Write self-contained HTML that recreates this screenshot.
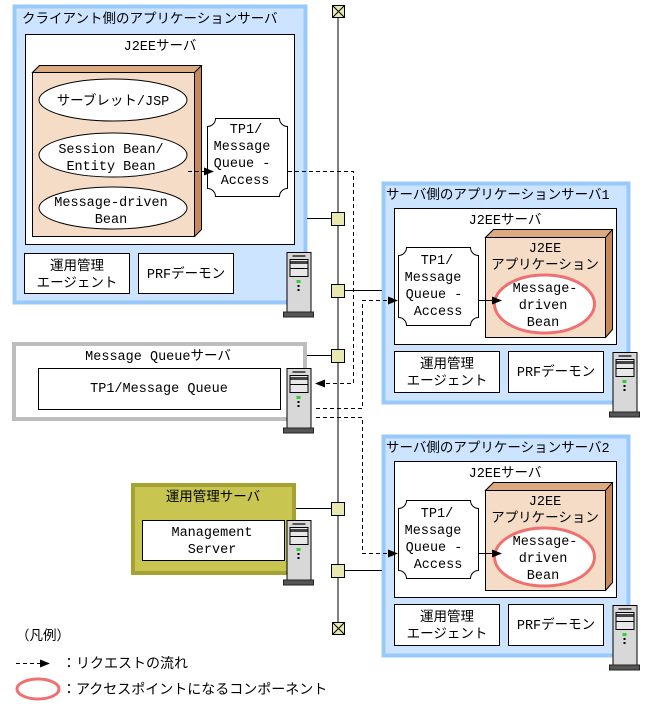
<!DOCTYPE html>
<html><head><meta charset="utf-8"><style>
body{margin:0;background:#fff}
svg{display:block}
text{font-family:"Liberation Mono","Noto Sans CJK JP",monospace;font-size:13.5px;fill:#000}
</style></head><body>
<svg width="646" height="705" viewBox="0 0 646 705" xmlns="http://www.w3.org/2000/svg">
<defs>
<g id="srv">
<rect x="0.5" y="0.5" width="24" height="60" fill="#d8d8d8" stroke="#000"/>
<rect x="6" y="3" width="13" height="2" fill="#555"/>
<rect x="3.5" y="7.5" width="18" height="17" fill="#e8e8e8" stroke="#000"/>
<rect x="4" y="9" width="17" height="3" fill="#444"/>
<line x1="4" y1="16.5" x2="21" y2="16.5" stroke="#000"/>
<rect x="10" y="28" width="4" height="3" fill="#3c3"/>
<rect x="11" y="33" width="2" height="2" fill="#000"/>
<rect x="11" y="37" width="2" height="2" fill="#000"/>
<rect x="-3" y="60" width="30" height="5" fill="#555" stroke="#222"/>
</g>
<path id="tp1" d="M8,0 H72 A8,8 0 0 0 80,8 V70 A8,8 0 0 0 72,78 H8 A8,8 0 0 0 0,70 V8 A8,8 0 0 0 8,0 Z" fill="#fff" stroke="#000"/>
<g id="arr"><path d="M0,-4 L10,0 L0,4 Z" fill="#000"/></g>
</defs>

<line x1="338" y1="12" x2="338" y2="628" stroke="#000"/>
<rect x="332.5" y="5.5" width="12" height="12" fill="#e8e8b0" stroke="#000"/>
<path d="M333,6 L344,17 M344,6 L333,17" stroke="#000"/>
<rect x="332.5" y="622.5" width="12" height="12" fill="#e8e8b0" stroke="#000"/>
<path d="M333,623 L344,634 M344,623 L333,634" stroke="#000"/>

<rect x="14.5" y="6.5" width="291" height="296" fill="#cce4ff" stroke="#99c8fa" stroke-width="4"/>
<text x="22" y="23">クライアント側のアプリケーションサーバ</text>
<rect x="25.5" y="34.5" width="269" height="210" fill="#fff" stroke="#000"/>
<text x="160" y="50" text-anchor="middle">J2EEサーバ</text>
<path d="M32.5,72.5 L39.5,65.5 L201.5,65.5 L201.5,229.5 L194.5,236.5 Z" fill="#c8895a" stroke="#000"/>
<path d="M32.5,72.5 L39.5,65.5 L201.5,65.5 L194.5,72.5 Z" fill="#dcaa80" stroke="#000"/>
<rect x="32.5" y="72.5" width="162" height="164" fill="#f4dcc6" stroke="#000"/>
<ellipse cx="113" cy="100" rx="74" ry="21" fill="#fff" stroke="#000"/>
<text x="113" y="105" text-anchor="middle">サーブレット/JSP</text>
<ellipse cx="113" cy="155" rx="74" ry="22" fill="#fff" stroke="#000"/>
<text x="111" y="153" text-anchor="middle">Session Bean/</text>
<text x="111" y="170" text-anchor="middle">Entity Bean</text>
<ellipse cx="113" cy="208" rx="74" ry="21" fill="#fff" stroke="#000"/>
<text x="111" y="206" text-anchor="middle">Message-driven</text>
<text x="111" y="223" text-anchor="middle">Bean</text>
<use href="#tp1" x="207.5" y="118.5"/>
<text x="246" y="133" text-anchor="middle">TP1/</text>
<text x="242" y="150" text-anchor="middle">Message</text>
<text x="242" y="167" text-anchor="middle">Queue -</text>
<text x="245" y="184" text-anchor="middle">Access</text>
<line x1="188" y1="171.5" x2="204" y2="171.5" stroke="#000" stroke-dasharray="4,3"/>
<use href="#arr" x="204" y="171.5"/>
<rect x="24.5" y="253.5" width="105" height="40" fill="#fff" stroke="#000"/>
<text x="77" y="270" text-anchor="middle">運用管理</text>
<text x="77" y="287" text-anchor="middle">エージェント</text>
<rect x="138.5" y="253.5" width="95" height="40" fill="#fff" stroke="#000"/>
<text x="186" y="278" text-anchor="middle">PRFデーモン</text>
<use href="#srv" x="286.5" y="252"/>

<rect x="14" y="344" width="291" height="75" fill="#fff" stroke="#bdbdbd" stroke-width="4"/>
<text x="158" y="360" text-anchor="middle">Message Queueサーバ</text>
<rect x="38.5" y="368.5" width="242" height="41" fill="#fff" stroke="#000"/>
<text x="159" y="392" text-anchor="middle">TP1/Message Queue</text>
<use href="#srv" x="286.5" y="368"/>

<rect x="133" y="485" width="161" height="88" fill="#c8c650" stroke="#a4a232" stroke-width="4"/>
<text x="213" y="501" text-anchor="middle">運用管理サーバ</text>
<rect x="142.5" y="520.5" width="142" height="40" fill="#fff" stroke="#000"/>
<text x="212" y="536" text-anchor="middle">Management</text>
<text x="212" y="553" text-anchor="middle">Server</text>
<use href="#srv" x="286.5" y="520"/>

<g id="s1">
<rect x="383.5" y="183.5" width="245" height="219" fill="#cce4ff" stroke="#99c8fa" stroke-width="4"/>
<text x="386" y="199">サーバ側のアプリケーションサーバ1</text>
<rect x="394.5" y="208.5" width="222" height="136" fill="#fff" stroke="#000"/>
<text x="505" y="224" text-anchor="middle">J2EEサーバ</text>
<path d="M485.5,237.5 L493.5,229.5 L612.5,229.5 L612.5,329.5 L605.5,337.5 Z" fill="#c8895a" stroke="#000"/>
<path d="M485.5,237.5 L493.5,229.5 L612.5,229.5 L605.5,237.5 Z" fill="#dcaa80" stroke="#000"/>
<rect x="485.5" y="237.5" width="120" height="100" fill="#f4dcc6" stroke="#000"/>
<text x="545" y="252" text-anchor="middle">J2EE</text>
<text x="545" y="269" text-anchor="middle">アプリケーション</text>
<ellipse cx="544.5" cy="304" rx="50" ry="29" fill="#fff" stroke="#f07070" stroke-width="3"/>
<text x="545" y="292" text-anchor="middle">Message-</text>
<text x="543" y="309" text-anchor="middle">driven</text>
<text x="543" y="326" text-anchor="middle">Bean</text>
<use href="#tp1" x="398.5" y="247.5"/>
<text x="437" y="264" text-anchor="middle">TP1/</text>
<text x="433" y="281" text-anchor="middle">Message</text>
<text x="434" y="298" text-anchor="middle">Queue -</text>
<text x="438" y="315" text-anchor="middle">Access</text>
<line x1="479" y1="300.5" x2="492" y2="300.5" stroke="#000"/>
<use href="#arr" x="492" y="300.5"/>
<rect x="394.5" y="351.5" width="105" height="41" fill="#fff" stroke="#000"/>
<text x="447" y="368" text-anchor="middle">運用管理</text>
<text x="447" y="385" text-anchor="middle">エージェント</text>
<rect x="508.5" y="351.5" width="95" height="41" fill="#fff" stroke="#000"/>
<text x="556" y="376" text-anchor="middle">PRFデーモン</text>
<use href="#srv" x="612.5" y="352"/>
</g>
<use href="#s1" y="253"/>
<rect x="386" y="439" width="240" height="17" fill="#cce4ff"/>
<text x="386" y="452">サーバ側のアプリケーションサーバ2</text>

<g stroke="#000">
<line x1="307" y1="218.5" x2="332" y2="218.5"/>
<line x1="344" y1="290.5" x2="382" y2="290.5"/>
<line x1="307" y1="355.5" x2="332" y2="355.5"/>
<line x1="296" y1="508.5" x2="332" y2="508.5"/>
<line x1="344" y1="570.5" x2="382" y2="570.5"/>
</g>
<g fill="#e8e8b0" stroke="#000">
<rect x="331.5" y="212.5" width="13" height="13"/>
<rect x="331.5" y="284.5" width="13" height="13"/>
<rect x="331.5" y="349.5" width="13" height="13"/>
<rect x="331.5" y="502.5" width="13" height="13"/>
<rect x="331.5" y="564.5" width="13" height="13"/>
</g>

<g fill="none" stroke="#000" stroke-dasharray="4,3">
<path d="M288,171.5 H353.5 V383.5 H325"/>
<path d="M316,408.5 H362.5 V300.5 H388"/>
<path d="M316,417.5 H362.5 V553.5 H388"/>
</g>
<use href="#arr" transform="translate(325,383.5) rotate(180)"/>
<use href="#arr" x="388" y="300.5"/>
<use href="#arr" x="388" y="553.5"/>

<text x="16" y="640">（凡例）</text>
<line x1="16" y1="663.5" x2="40" y2="663.5" stroke="#000" stroke-dasharray="4,3"/>
<use href="#arr" x="40" y="663.5"/>
<text x="62" y="668" style="font-size:14px">：リクエストの流れ</text>
<ellipse cx="38" cy="689" rx="21" ry="10" fill="#fff" stroke="#f07070" stroke-width="3"/>
<text x="62" y="694" style="font-size:14px">：アクセスポイントになるコンポーネント</text>
</svg>
</body></html>
